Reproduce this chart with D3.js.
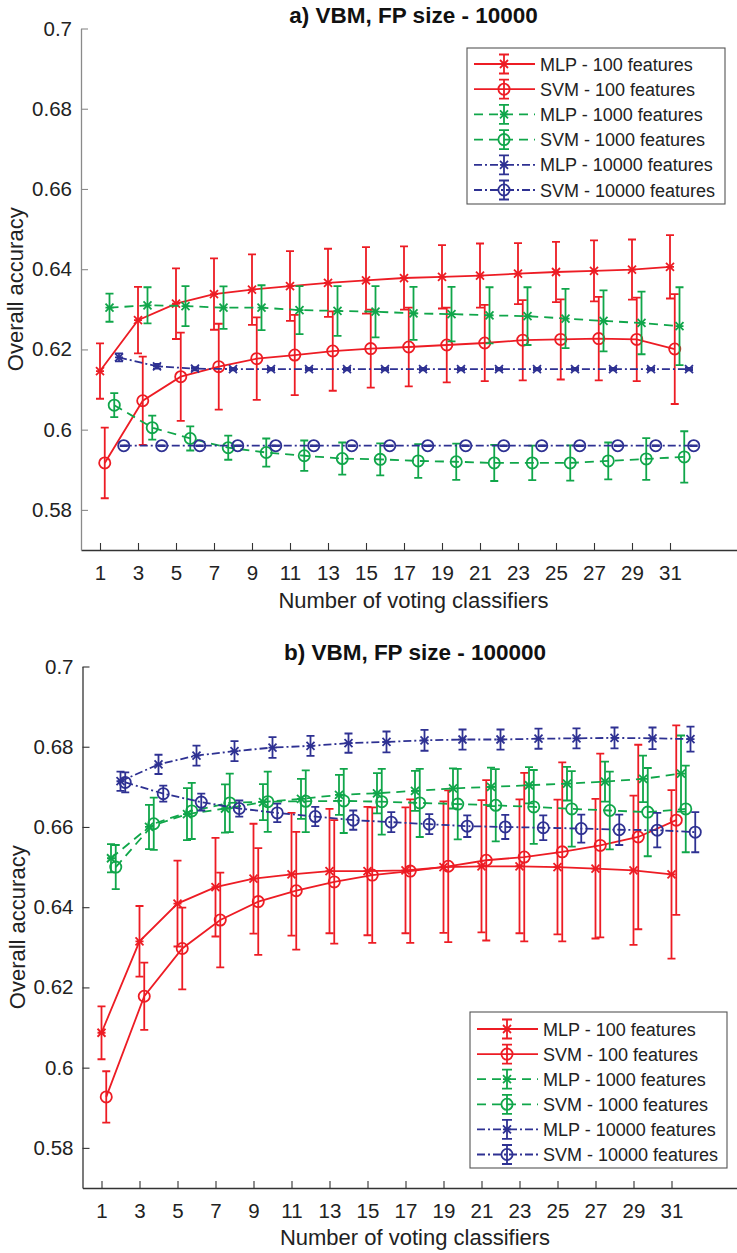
<!DOCTYPE html>
<html><head><meta charset="utf-8">
<script src="https://cdn.jsdelivr.net/npm/d3@7/dist/d3.min.js"></script>
<style>
body{margin:0;background:#fff}
svg{display:block}
text{font-family:"Liberation Sans",Arial,Helvetica,sans-serif}
</style>
</head><body>
<svg id="chart" width="737" height="1253"></svg>
<script>
// ---------- data ----------
const voters = [1,3,5,7,9,11,13,15,17,19,21,23,25,27,29,31];
const yTicks = [0.58,0.6,0.62,0.64,0.66,0.68,0.7];
const seriesNames = ["MLP - 100 features","SVM - 100 features","MLP - 1000 features","SVM - 1000 features","MLP - 10000 features","SVM - 10000 features"];
const titles = ["a) VBM, FP size - 10000","b) VBM, FP size - 100000"];
const xLabel = "Number of voting classifiers";
const yLabel = "Overall accuracy";

// panel a (FP size 10000)
const aMlp100     = [0.6146,0.6273,0.6314,0.6338,0.6349,0.6358,0.6366,0.6372,0.6378,0.6381,0.6384,0.6389,0.6393,0.6396,0.6399,0.6406];
const aMlp100Err  = [0.0069,0.0083,0.0088,0.0089,0.0088,0.0087,0.0085,0.0083,0.0079,0.0079,0.0080,0.0076,0.0075,0.0076,0.0075,0.0079];
const aSvm100     = [0.5917,0.6072,0.6132,0.6157,0.6177,0.6186,0.6196,0.6202,0.6206,0.6211,0.6216,0.6223,0.6225,0.6227,0.6225,0.6201];
const aSvm100Err  = [0.0088,0.0110,0.0110,0.0107,0.0103,0.0100,0.0099,0.0097,0.0098,0.0093,0.0095,0.0100,0.0100,0.0104,0.0104,0.0137];
const aMlp1000    = [0.6304,0.6310,0.6308,0.6304,0.6304,0.6298,0.6296,0.6294,0.6290,0.6288,0.6285,0.6283,0.6277,0.6271,0.6266,0.6258];
const aMlp1000Err = [0.0035,0.0045,0.0050,0.0053,0.0056,0.0060,0.0062,0.0064,0.0066,0.0068,0.0070,0.0072,0.0074,0.0076,0.0078,0.0097];
const aSvm1000    = [0.6061,0.6005,0.5978,0.5955,0.5943,0.5935,0.5928,0.5926,0.5922,0.5920,0.5917,0.5917,0.5917,0.5922,0.5927,0.5932];
const aSvm1000Err = [0.0030,0.0030,0.0030,0.0030,0.0035,0.0038,0.0040,0.0040,0.0042,0.0045,0.0045,0.0043,0.0044,0.0046,0.0052,0.0064];
const aMlp10000   = [0.6180,0.6158,0.6152,0.6151,0.6151,0.6151,0.6151,0.6151,0.6151,0.6151,0.6151,0.6151,0.6151,0.6151,0.6151,0.6151];
const aMlp10000Err= [0.0010,0.0006,0.0004,0.0003,0.0003,0.0003,0.0003,0.0003,0.0003,0.0003,0.0003,0.0003,0.0003,0.0003,0.0003,0.0003];
const aSvm10000   = [0.5960,0.5960,0.5960,0.5960,0.5960,0.5960,0.5960,0.5960,0.5960,0.5960,0.5960,0.5960,0.5960,0.5960,0.5960,0.5960];
const aSvm10000Err= [0.0001,0.0001,0.0001,0.0001,0.0001,0.0001,0.0001,0.0001,0.0001,0.0001,0.0001,0.0001,0.0001,0.0001,0.0001,0.0001];

// panel b (FP size 100000)
const bMlp100     = [0.6087,0.6315,0.6409,0.6450,0.6471,0.6482,0.6490,0.6490,0.6492,0.6500,0.6502,0.6502,0.6500,0.6496,0.6492,0.6482];
const bMlp100Err  = [0.0066,0.0088,0.0107,0.0123,0.0137,0.0153,0.0155,0.0160,0.0157,0.0164,0.0165,0.0167,0.0168,0.0174,0.0186,0.0210];
const bSvm100     = [0.5927,0.6178,0.6297,0.6368,0.6414,0.6441,0.6463,0.6480,0.6490,0.6502,0.6517,0.6525,0.6538,0.6554,0.6575,0.6617];
const bSvm100Err  = [0.0064,0.0084,0.0102,0.0118,0.0133,0.0147,0.0154,0.0169,0.0179,0.0189,0.0200,0.0210,0.0223,0.0229,0.0230,0.0236];
const bMlp1000    = [0.6522,0.6600,0.6632,0.6646,0.6662,0.6670,0.6680,0.6684,0.6690,0.6696,0.6700,0.6704,0.6708,0.6713,0.6720,0.6733];
const bMlp1000Err = [0.0035,0.0055,0.0065,0.0060,0.0045,0.0050,0.0050,0.0050,0.0050,0.0050,0.0048,0.0045,0.0042,0.0050,0.0058,0.0095];
const bSvm1000    = [0.6500,0.6608,0.6640,0.6660,0.6663,0.6664,0.6665,0.6663,0.6660,0.6657,0.6654,0.6650,0.6645,0.6641,0.6637,0.6645];
const bSvm1000Err = [0.0055,0.0065,0.0070,0.0073,0.0075,0.0077,0.0080,0.0082,0.0085,0.0088,0.0090,0.0092,0.0094,0.0097,0.0110,0.0108];
const bMlp10000   = [0.6714,0.6756,0.6778,0.6789,0.6798,0.6802,0.6809,0.6812,0.6816,0.6818,0.6818,0.6820,0.6821,0.6822,0.6821,0.6819];
const bMlp10000Err= [0.0024,0.0024,0.0025,0.0025,0.0026,0.0025,0.0024,0.0026,0.0026,0.0025,0.0025,0.0025,0.0025,0.0026,0.0027,0.0031];
const bSvm10000   = [0.6711,0.6683,0.6662,0.6646,0.6635,0.6626,0.6617,0.6612,0.6607,0.6602,0.6600,0.6598,0.6596,0.6593,0.6592,0.6587];
const bSvm10000Err= [0.0025,0.0020,0.0021,0.0020,0.0023,0.0024,0.0024,0.0025,0.0025,0.0027,0.0030,0.0031,0.0035,0.0038,0.0043,0.0050];

// ---------- styles ----------
const RED="#ed1c24", GREEN="#10a64a", BLUE="#2e3192";
const styles = [
  {color:RED,   dash:null,        marker:"x", off:0.00},
  {color:RED,   dash:null,        marker:"o", off:0.25},
  {color:GREEN, dash:"9,6",       marker:"x", off:0.50},
  {color:GREEN, dash:"9,6",       marker:"o", off:0.75},
  {color:BLUE,  dash:"8,3,2,3",   marker:"x", off:1.00},
  {color:BLUE,  dash:"8,3,2,3",   marker:"o", off:1.25}
];

const panels = [
  {title:titles[0], x0:81,  x1:746,  yTop:28.5, yBot:550,
   titleY:23, tickPad:15, xLabY:608, yLabX:23,
   legend:{x:467,y:48,w:258,h:156,row0:64,rowH:25.2},
   axisLeftColor:"#8a8a8a",
   means:[aMlp100,aSvm100,aMlp1000,aSvm1000,aMlp10000,aSvm10000],
   errs:[aMlp100Err,aSvm100Err,aMlp1000Err,aSvm1000Err,aMlp10000Err,aSvm10000Err]},
  {title:titles[1], x0:82.5,x1:747.5,yTop:666.5,yBot:1188,
   titleY:660, tickPad:15.5, xLabY:1245, yLabX:25,
   legend:{x:470,y:1012,w:257,h:156,row0:1029,rowH:25.1},
   axisLeftColor:"#333",
   means:[bMlp100,bSvm100,bMlp1000,bSvm1000,bMlp10000,bSvm10000],
   errs:[bMlp100Err,bSvm100Err,bMlp1000Err,bSvm1000Err,bMlp10000Err,bSvm10000Err]}
];

const svg = d3.select("#chart");

function drawMarker(g, type, cx, cy, color){
  if(type==="o"){
    g.append("circle").attr("cx",cx).attr("cy",cy).attr("r",5.6)
      .attr("fill","none").attr("stroke",color).attr("stroke-width",1.8);
  } else {
    const s=4;
    g.append("path").attr("d",`M${cx-s},${cy-s}L${cx+s},${cy+s}M${cx-s},${cy+s}L${cx+s},${cy-s}M${cx-s},${cy}L${cx+s},${cy}`)
      .attr("stroke",color).attr("stroke-width",1.8).attr("fill","none");
  }
}

panels.forEach(p=>{
  const x = d3.scaleLinear().domain([0,35]).range([p.x0,p.x1]);
  const y = d3.scaleLinear().domain([0.57,0.7]).range([p.yBot,p.yTop]);
  const g = svg.append("g");

  // axes
  const ax = g.append("g").attr("transform",`translate(0,${p.yBot})`)
    .call(d3.axisBottom(x).tickValues(voters).tickSizeInner(-7).tickSizeOuter(0).tickPadding(p.tickPad));
  ax.select(".domain").attr("stroke","#333").attr("stroke-width",1.3);
  ax.selectAll(".tick line").attr("stroke","#333").attr("stroke-width",1.1);
  ax.selectAll(".tick text").attr("font-size",20.5).attr("fill","#222")
    .attr("font-family","Liberation Sans, Arial, sans-serif");

  const ay = g.append("g").attr("transform",`translate(${p.x0},0)`)
    .call(d3.axisLeft(y).tickValues(yTicks).tickSizeInner(-7).tickSizeOuter(0).tickPadding(9)
      .tickFormat(d3.format("~g")));
  ay.select(".domain").attr("stroke",p.axisLeftColor).attr("stroke-width",1.3);
  ay.selectAll(".tick line").attr("stroke",p.axisLeftColor).attr("stroke-width",1.1);
  ay.selectAll(".tick text").attr("font-size",20.5).attr("fill","#222")
    .attr("font-family","Liberation Sans, Arial, sans-serif");

  // titles & labels
  const cx = (p.x0+p.x1)/2;
  g.append("text").attr("x",cx).attr("y",p.titleY).attr("text-anchor","middle")
    .attr("font-size",22.5).attr("font-weight","bold").attr("fill","#111").text(p.title);
  g.append("text").attr("x",cx).attr("y",p.xLabY).attr("text-anchor","middle")
    .attr("font-size",22).attr("fill","#222").text(xLabel);
  g.append("text").attr("transform",`translate(${p.yLabX},${(p.yTop+p.yBot)/2}) rotate(-90)`)
    .attr("text-anchor","middle").attr("font-size",22).attr("fill","#222").text(yLabel);

  // series
  styles.forEach((s,i)=>{
    const m = p.means[i], e = p.errs[i];
    const pts = voters.map((v,j)=>({x:v+s.off, m:m[j], e:e[j]}));
    const sg = g.append("g");
    pts.forEach(d=>{
      const px=x(d.x), yt=y(d.m+d.e), yb=y(d.m-d.e);
      sg.append("path").attr("d",`M${px},${yt}L${px},${yb}M${px-4},${yt}L${px+4},${yt}M${px-4},${yb}L${px+4},${yb}`)
        .attr("stroke",s.color).attr("stroke-width",1.8).attr("fill","none");
    });
    sg.append("path").datum(pts)
      .attr("d",d3.line().x(d=>x(d.x)).y(d=>y(d.m)))
      .attr("fill","none").attr("stroke",s.color).attr("stroke-width",1.8)
      .attr("stroke-dasharray",s.dash);
    pts.forEach(d=>drawMarker(sg,s.marker,x(d.x),y(d.m),s.color));
  });

  // legend
  const L = p.legend;
  const lg = g.append("g");
  lg.append("rect").attr("x",L.x).attr("y",L.y).attr("width",L.w).attr("height",L.h)
    .attr("fill","#fff").attr("stroke","#555").attr("stroke-width",1.1);
  styles.forEach((s,i)=>{
    const ry = L.row0 + i*L.rowH;
    const lx0 = L.x+7, lx1 = L.x+68, mx = L.x+37;
    lg.append("line").attr("x1",lx0).attr("x2",lx1).attr("y1",ry).attr("y2",ry)
      .attr("stroke",s.color).attr("stroke-width",1.8).attr("stroke-dasharray",s.dash);
    lg.append("path").attr("d",`M${mx},${ry-9.5}L${mx},${ry+9.5}M${mx-5},${ry-9.5}L${mx+5},${ry-9.5}M${mx-5},${ry+9.5}L${mx+5},${ry+9.5}`)
      .attr("stroke",s.color).attr("stroke-width",1.8).attr("fill","none");
    drawMarker(lg,s.marker,mx,ry,s.color);
    lg.append("text").attr("x",L.x+73).attr("y",ry+6.5).attr("font-size",18).attr("fill","#222")
      .text(seriesNames[i]);
  });
});
</script>
</body></html>
